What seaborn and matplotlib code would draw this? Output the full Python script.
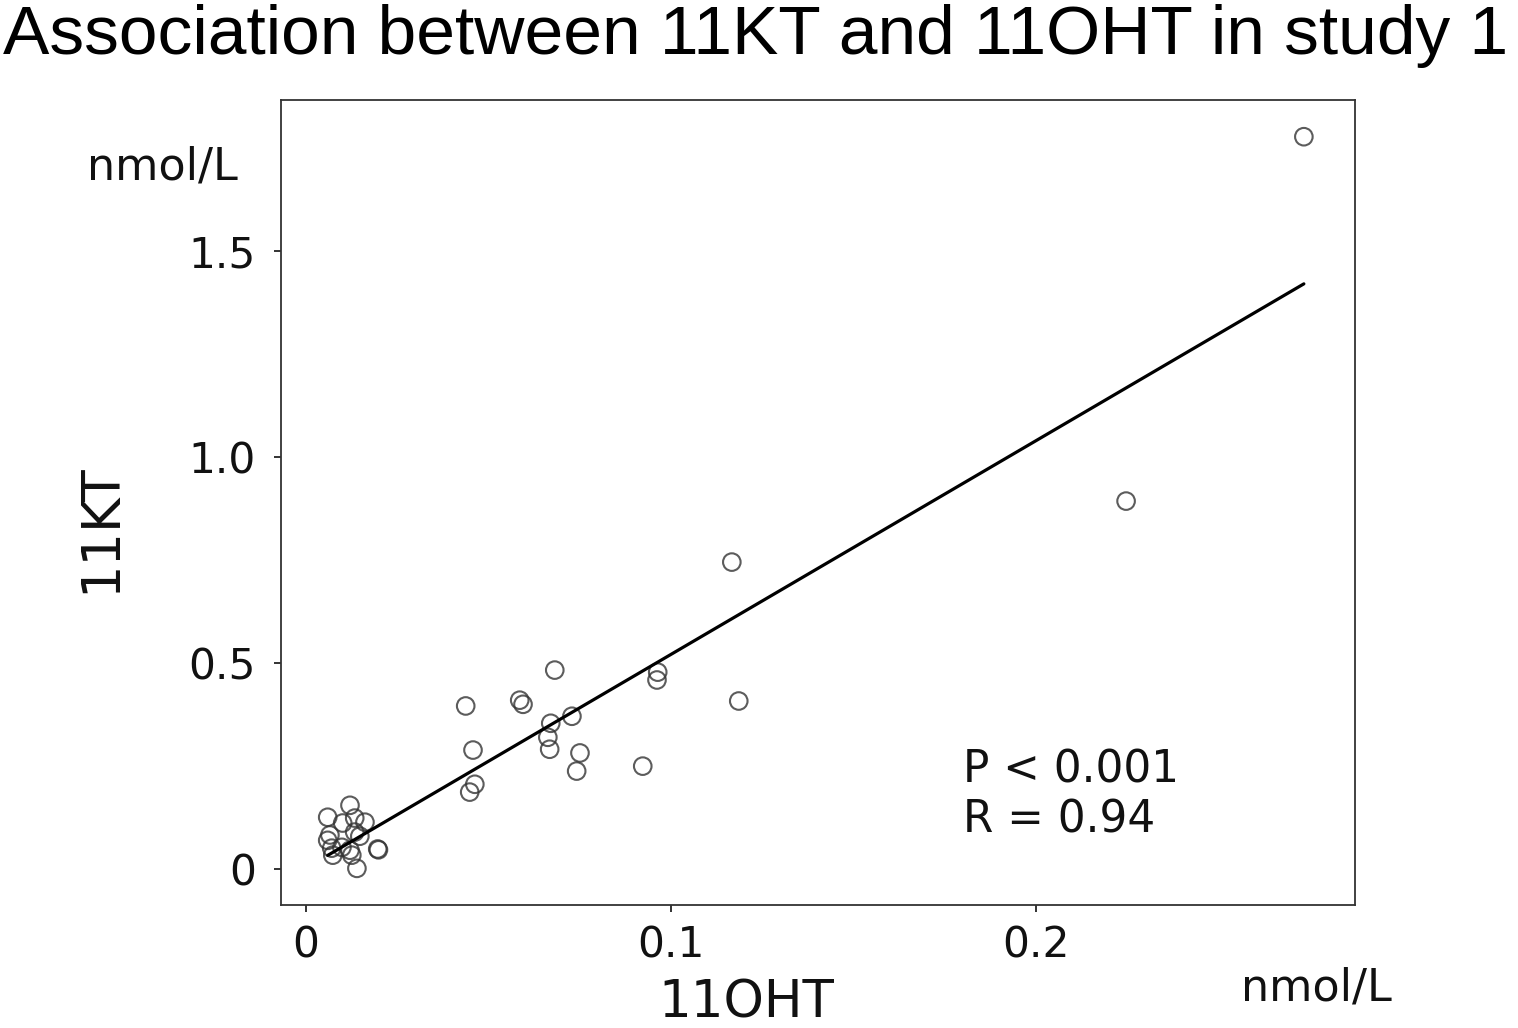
import numpy as np
import pandas as pd
import seaborn as sns
import matplotlib
matplotlib.use("Agg")
import matplotlib.pyplot as plt

# Data (nmol/L)
oht_11 = [0.0121, 0.0060, 0.0101, 0.0134, 0.0162, 0.0066, 0.0060, 0.0134, 0.0148,
          0.0071, 0.0099, 0.0121, 0.0126, 0.0074, 0.0140, 0.0197, 0.0199,
          0.0682, 0.0438, 0.0586, 0.0595, 0.0671, 0.0729, 0.0663, 0.0668, 0.0458,
          0.0751, 0.0742, 0.0923, 0.0964, 0.0962, 0.0463, 0.0449,
          0.1167, 0.1186, 0.2247, 0.2734]
kt_11 = [0.155, 0.126, 0.112, 0.124, 0.114, 0.083, 0.070, 0.090, 0.080,
         0.051, 0.053, 0.046, 0.034, 0.034, 0.002, 0.049, 0.047,
         0.483, 0.396, 0.410, 0.400, 0.354, 0.371, 0.320, 0.291, 0.289,
         0.282, 0.238, 0.250, 0.478, 0.459, 0.206, 0.187,
         0.745, 0.408, 0.893, 1.777]
x_ticks = [0, 0.1, 0.2]
x_ticklabels = ["0", "0.1", "0.2"]
y_ticks = [0, 0.5, 1.0, 1.5]
y_ticklabels = ["0", "0.5", "1.0", "1.5"]

df = pd.DataFrame({"11OHT": oht_11, "11KT": kt_11})

sns.set_theme(style="white")
plt.rcParams['font.family'] = ['DejaVu Sans']

fig = plt.figure(figsize=(15.18, 10.28), dpi=100)
ax = fig.add_axes([0.1851, 0.1196, 0.7075, 0.7831])

sns.regplot(data=df, x="11OHT", y="11KT", ax=ax, ci=None, truncate=True,
            scatter_kws=dict(s=160, facecolors="none", edgecolors="#333333", linewidths=1.5),
            line_kws=dict(color="black", lw=2.3))

ax.set_xlim(-0.0068, 0.2874)
ax.set_ylim(-0.087, 1.866)
ax.set_xticks(x_ticks)
ax.set_xticklabels(x_ticklabels)
ax.set_yticks(y_ticks)
ax.set_yticklabels(y_ticklabels)
ax.tick_params(axis="both", labelsize=30.5, colors="#111111", length=5, width=1.2,
               direction="out", left=True, bottom=True)
ax.tick_params(axis="y", pad=13)
ax.tick_params(axis="x", pad=9)
for sp in ax.spines.values():
    sp.set_color("#333333")
    sp.set_linewidth(1.3)
ax.set_xlabel("")
ax.set_ylabel("")

fig.text(0.002, 0.996, "Association between 11KT and 11OHT in study 1",
         fontsize=50, family=["Liberation Sans", "DejaVu Sans"],
         ha="left", va="top", color="black")
fig.text(100 / 1518, 1 - 528 / 1028, "11KT", rotation=90, fontsize=38,
         ha="center", va="center", color="#111111")
fig.text(746 / 1518, 1 - 1003 / 1028, "11OHT", fontsize=37,
         ha="center", va="center", color="#111111")
fig.text(162 / 1518, 1 - 167 / 1028, "nmol/L", fontsize=32,
         ha="center", va="center", color="#111111")
fig.text(1316 / 1518, 1 - 988 / 1028, "nmol/L", fontsize=32,
         ha="center", va="center", color="#111111")
fig.text(963 / 1518, 1 - 795 / 1028, "P < 0.001\nR = 0.94", fontsize=31.5,
         ha="left", va="center", linespacing=1.2, color="#111111")

fig.savefig("out.png", dpi=100, facecolor="white")
